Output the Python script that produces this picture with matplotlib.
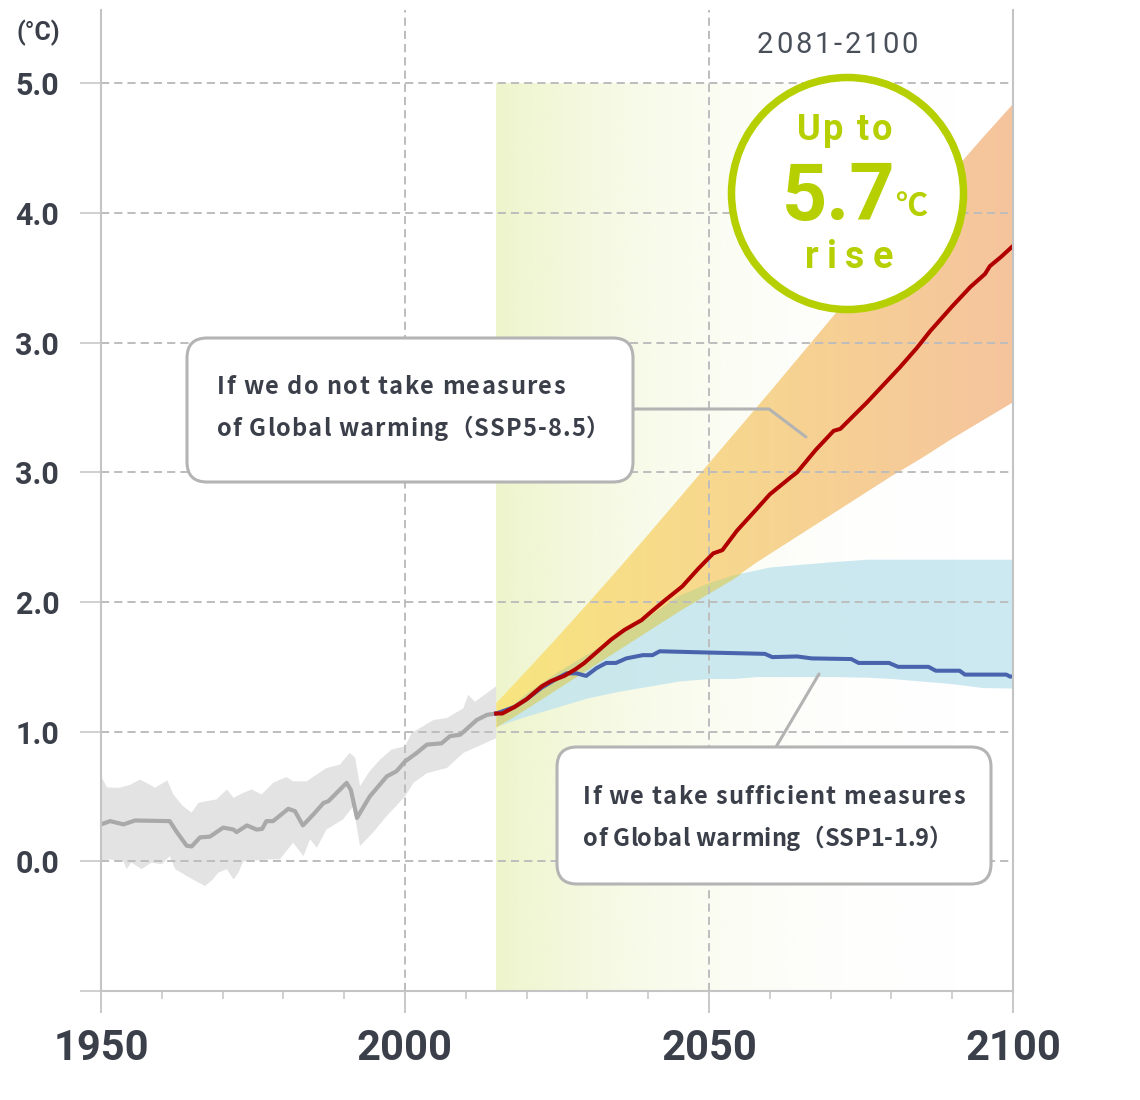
import numpy as np
import matplotlib
matplotlib.use("Agg")
import matplotlib.pyplot as plt
from matplotlib.colors import LinearSegmentedColormap, to_rgb
from matplotlib.patches import FancyBboxPatch, Circle
from matplotlib.font_manager import FontProperties
from matplotlib.path import Path

# ---- data (y values are in "grid levels": 0.0 -> 0, 1.0 -> 1, ... top line -> 6)
ytick_pos = [-1, 0, 1, 2, 3, 4, 5, 6]
ytick_lab = ["", "0.0", "1.0", "2.0", "3.0", "3.0", "4.0", "5.0"]
xtick_major = [1950, 2000, 2050, 2100]
xtick_minor = [1960, 1970, 1980, 1990, 2010, 2020, 2030, 2040, 2060, 2070, 2080, 2090]

hist_years = [1950, 1951.5, 1953.7, 1955.6, 1961.3, 1962.4, 1964.1, 1964.9, 1966.3, 1967.9,
              1970.1, 1971.8, 1972.3, 1974, 1975.6, 1976.5, 1977.2, 1978.3, 1980.8, 1981.9,
              1983.2, 1984.9, 1986.6, 1987.4, 1990.4, 1991.1, 1992.1, 1994.2, 1997, 1998.6,
              2000, 2001.9, 2003.6, 2006, 2007.4, 2009.1, 2011.8, 2013.5, 2015]
hist_mean = [0.285, 0.31, 0.285, 0.315, 0.31, 0.23, 0.12, 0.115, 0.185, 0.19,
             0.26, 0.245, 0.225, 0.277, 0.245, 0.25, 0.31, 0.31, 0.405, 0.387,
             0.277, 0.36, 0.45, 0.464, 0.605, 0.55, 0.335, 0.50, 0.655, 0.695,
             0.77, 0.835, 0.90, 0.91, 0.965, 0.977, 1.09, 1.13, 1.14]

hist_hi_years = [1950, 1951, 1953, 1954.8, 1956.4, 1957.5, 1958.9, 1960.9, 1961.9, 1963.5,
                 1964.9, 1966, 1967.4, 1969, 1970.7, 1971.8, 1973.4, 1974.8, 1976.4, 1978.3,
                 1980.5, 1981.6, 1983.8, 1987.1, 1989.3, 1990.9, 1991.8, 1992.6, 1994.2, 1995.9,
                 1997.8, 2000, 2001.1, 2004.7, 2006.9, 2009.6, 2010.4, 2011.5, 2015]
hist_hi = [0.655, 0.57, 0.567, 0.59, 0.63, 0.605, 0.567, 0.625, 0.515, 0.425,
           0.375, 0.45, 0.464, 0.477, 0.554, 0.49, 0.528, 0.554, 0.515, 0.605,
           0.65, 0.617, 0.617, 0.72, 0.746, 0.836, 0.80, 0.58, 0.695, 0.785,
           0.862, 0.887, 0.99, 1.09, 1.105, 1.18, 1.285, 1.23, 1.35]

hist_lo_years = [1950, 1951.4, 1953.7, 1954.2, 1955, 1956.7, 1958.3, 1960, 1961.3, 1962.2,
                 1965.1, 1967.1, 1968.4, 1969.3, 1970.7, 1971.8, 1972.6, 1973.4, 1977.8, 1979.4,
                 1981.6, 1983.3, 1984.4, 1985.5, 1987.1, 1989.8, 1991.5, 1992.6, 1994.7, 1997,
                 2000, 2001.4, 2003.6, 2006.9, 2009.6, 2015]
hist_lo = [0.0, 0.015, 0.0, -0.06, -0.01, -0.06, -0.01, -0.023, 0.04, -0.06,
           -0.14, -0.19, -0.14, -0.087, -0.06, -0.14, -0.087, 0.0, 0.015, 0.015,
           0.144, 0.04, 0.17, 0.105, 0.246, 0.323, 0.425, 0.118, 0.22, 0.35,
           0.50, 0.605, 0.68, 0.72, 0.836, 0.95]

proj_years = [2015, 2018, 2020, 2025, 2030, 2035, 2040, 2045, 2050, 2054,
              2058, 2060, 2065, 2070, 2076, 2080, 2085, 2090, 2095, 2100]
ssp585_hi = [1.22, 1.37, 1.47, 1.725, 1.985, 2.25, 2.52, 2.795, 3.07, 3.29,
             3.51, 3.62, 3.90, 4.18, 4.52, 4.75, 5.03, 5.31, 5.58, 5.84]
ssp585_lo = [1.03, 1.12, 1.18, 1.33, 1.48, 1.63, 1.78, 1.93, 2.07, 2.18,
             2.31, 2.37, 2.52, 2.67, 2.85, 2.97, 3.11, 3.26, 3.40, 3.54]
ssp119_hi = [1.15, 1.22, 1.30, 1.46, 1.60, 1.75, 1.89, 2.05, 2.15, 2.21,
             2.25, 2.27, 2.29, 2.31, 2.33, 2.33, 2.33, 2.33, 2.33, 2.33]
ssp119_lo = [1.04, 1.09, 1.12, 1.19, 1.26, 1.31, 1.35, 1.39, 1.41, 1.41,
             1.425, 1.425, 1.425, 1.425, 1.42, 1.41, 1.39, 1.37, 1.34, 1.336]

ssp585_years = [2015, 2016, 2018, 2020, 2022.5, 2024, 2026.2, 2028, 2029.5, 2031.7,
                2033.9, 2036.1, 2038.9, 2040.5, 2042.8, 2045.6, 2048.3, 2050.7, 2052.2, 2054.6,
                2057.9, 2060, 2063.4, 2064.5, 2067.5, 2070.5, 2071.6, 2076, 2081.4, 2084.2,
                2086.4, 2090, 2093, 2095.4, 2096.2, 2098, 2100]
ssp585_mean = [1.14, 1.14, 1.19, 1.25, 1.35, 1.39, 1.43, 1.48, 1.53, 1.62,
               1.71, 1.785, 1.86, 1.925, 2.015, 2.12, 2.26, 2.375, 2.40, 2.55,
               2.72, 2.83, 2.96, 3.0, 3.17, 3.32, 3.335, 3.54, 3.81, 3.96,
               4.09, 4.28, 4.43, 4.53, 4.59, 4.66, 4.746]

ssp119_years = [2015, 2018, 2020, 2022.5, 2025, 2026.6, 2028.2, 2029.8, 2031.5, 2033.1,
                2034.7, 2036.4, 2039.1, 2040.7, 2041.9, 2050, 2059.2, 2060.4, 2064.5, 2066.9,
                2073.4, 2074.6, 2079.6, 2081.1, 2086.1, 2087.3, 2091.2, 2092.1, 2098.9, 2099.5, 2100]
ssp119_mean = [1.14, 1.19, 1.25, 1.34, 1.41, 1.45, 1.45, 1.43, 1.49, 1.53,
               1.53, 1.565, 1.59, 1.59, 1.62, 1.61, 1.60, 1.575, 1.58, 1.565,
               1.56, 1.53, 1.53, 1.50, 1.50, 1.47, 1.47, 1.44, 1.44, 1.425, 1.425]

# ---- style
W, H = 1140, 1100
TXT = "#3a3f4a"
GRID = "#bdbdbd"
AXC = "#c4c4c4"
GREEN = "#b5cf00"
px_per_level = 129.67

fig = plt.figure(figsize=(W / 100, H / 100), dpi=100)
ax = fig.add_axes([101 / W, (H - 991) / H, 912 / W, 981 / H])

# background highlight for projection period
t = np.linspace(0, 1, 300)
bg = np.zeros((1, 300, 4))
bg[..., :3] = to_rgb("#eef5cc")
bg[..., 3] = (1 - t) ** 2.5
ax.imshow(bg, extent=[2015, 2100, -1, 6], aspect="auto", zorder=0, interpolation="bilinear")

# historical band
ax.fill(np.r_[hist_hi_years, hist_lo_years[::-1]], np.r_[hist_hi, hist_lo[::-1]],
        color="#e3e3e3", lw=0, zorder=1)

# SSP1-1.9 band
ax.fill_between(proj_years, ssp119_lo, ssp119_hi, color="#c3e5ee", alpha=0.85, lw=0, zorder=1.2)

# SSP5-8.5 band with horizontal gradient
band = ax.fill_between(proj_years, ssp585_lo, ssp585_hi, facecolor="none", lw=0)
ocmap = LinearSegmentedColormap.from_list("o", [(0, "#f8e57f"), (0.45, "#f7d78f"), (1, "#f5c49d")])
im = ax.imshow(np.linspace(0, 1, 300)[None, :], cmap=ocmap, extent=[2015, 2100, -1, 6.5],
               aspect="auto", zorder=1.4, interpolation="bilinear")
im.set_clip_path(Path.make_compound_path(*band.get_paths()), ax.transData)

# overlap of the two bands
ov_lo = np.maximum(ssp585_lo, ssp119_lo)
ov_hi = np.minimum(ssp585_hi, ssp119_hi)
ax.fill_between(proj_years, ov_lo, ov_hi, where=ov_hi > ov_lo, interpolate=True,
                color="#d3d68c", lw=0, zorder=1.6)

# grid
dash = (0, (4.2, 2.6))
for lv in range(0, 7):
    ax.axhline(lv, color=GRID, lw=1.4, ls=dash, zorder=2)
for xv in [2000, 2050]:
    ax.axvline(xv, color=GRID, lw=1.4, ls=dash, zorder=2)

# lines
ax.plot(hist_years, hist_mean, color="#a9a9a9", lw=3, zorder=3,
        solid_capstyle="round", solid_joinstyle="round")
ax.plot(ssp119_years, ssp119_mean, color="#4a63ad", lw=2.9, zorder=3.1, solid_joinstyle="round")
ax.plot(ssp585_years, ssp585_mean, color="#b10000", lw=2.9, zorder=3.2, solid_joinstyle="round")

ax.set_xlim(1950, 2100)
ax.set_ylim(-1, -1 + 981 / px_per_level)

ax.spines["top"].set_visible(False)
for s in ["left", "right", "bottom"]:
    ax.spines[s].set_color(AXC)
    ax.spines[s].set_linewidth(1.5)
    ax.spines[s].set_zorder(4)

ax.set_yticks(ytick_pos)
ax.set_yticklabels(ytick_lab)
ax.tick_params(axis="y", length=15, width=1.1, color=AXC, pad=15, labelcolor=TXT)
for lab in ax.get_yticklabels():
    lab.set_fontproperties(FontProperties(family="Roboto", weight="bold", size=22))

ax.set_xticks(xtick_major)
ax.set_xticks(xtick_minor, minor=True)
ax.tick_params(axis="x", which="major", length=16, width=1.3, color=AXC, pad=11, labelcolor=TXT)
ax.tick_params(axis="x", which="minor", length=6, width=1.1, color=AXC)
for lab in ax.get_xticklabels():
    lab.set_fontproperties(FontProperties(family="Roboto", weight="bold", size=30))

# ---- overlay in pixel coordinates for annotations
ov = fig.add_axes([0, 0, 1, 1], zorder=10)
ov.set_xlim(0, W)
ov.set_ylim(H, 0)
ov.axis("off")
ov.patch.set_visible(False)

renderer = fig.canvas.get_renderer()


def spaced(x, y, s, size, width, family, weight="bold", color=TXT, ha="left"):
    fp = FontProperties(family=family, weight=weight, size=size)

    def w(txt):
        return renderer.get_text_width_height_descent(txt, fp, ismath=False)[0]

    nat = w(s)
    gap = (width - nat) / (len(s) - 1) if len(s) > 1 else 0
    x0 = x - width / 2 if ha == "center" else x
    for i, c in enumerate(s):
        if c == " ":
            continue
        off = w(s[:i + 1]) - w(c)
        ov.text(x0 + off + i * gap, y, c, fontproperties=fp, color=color,
                ha="left", va="baseline", zorder=12)


# unit label and period label
ov.text(38, 33, "(°C)", fontproperties=FontProperties(family="Roboto", weight="bold", size=18),
        color=TXT, ha="center", va="center")
spaced(757, 53, "2081-2100", 21, 161, "Roboto", weight="normal", color="#4a505a")

# leader lines (under the boxes)
ov.plot([632, 769, 806], [409, 409, 437], color="#b3b3b3", lw=2.2, zorder=10.5,
        solid_capstyle="round")
ov.plot([776, 819], [747, 674], color="#b3b3b3", lw=2.2, zorder=10.5, solid_capstyle="round")

# callout boxes
for (bx, by, bw, bh) in [(187, 338, 446, 144), (557, 747, 434, 137)]:
    ov.add_patch(FancyBboxPatch((bx, by), bw, bh, boxstyle="round,pad=0,rounding_size=20",
                                facecolor="white", edgecolor="#b4b4b4", lw=2.2, zorder=11))

cjk = ["Noto Sans CJK JP", "DejaVu Sans"]
spaced(217, 394, "If we do not take measures", 17, 348, cjk)
spaced(217, 436, "of Global warming（SSP5-8.5）", 17, 393, cjk)
spaced(583, 804, "If we take sufficient measures", 17, 382, cjk)
spaced(583, 846, "of Global warming（SSP1-1.9）", 17, 370, cjk)

# circle badge
ov.add_patch(Circle((847.5, 193.5), 116, facecolor="white", edgecolor=GREEN, lw=5.4, zorder=11))
spaced(844.5, 140, "Up to", 26, 95, "Roboto", color=GREEN, ha="center")
ov.text(839, 220, "5.7", fontproperties=FontProperties(family="Roboto", weight="bold", size=57),
        color=GREEN, ha="center", va="baseline", zorder=12)
ov.text(895, 217, "℃", fontproperties=FontProperties(family=cjk, weight="bold", size=23),
        color=GREEN, ha="left", va="baseline", zorder=12)
spaced(849, 268, "rise", 27, 88, "Roboto", color=GREEN, ha="center")

fig.savefig("out.png", dpi=100)
